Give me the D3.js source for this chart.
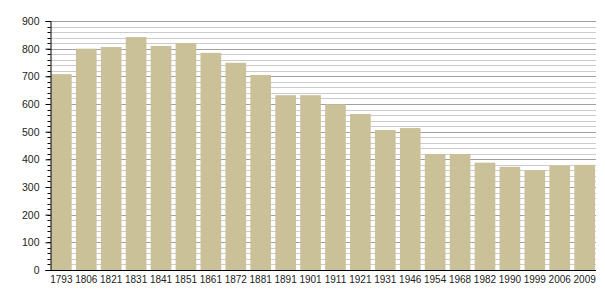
<!DOCTYPE html>
<html>
<head>
<meta charset="utf-8">
<script src="https://cdn.jsdelivr.net/npm/d3@7"></script>
<style>
body { margin: 0; background: #fff; }
text { font-family: "Liberation Sans", Arial, sans-serif; }
</style>
</head>
<body>
<script>
var years = ["1793","1806","1821","1831","1841","1851","1861","1872","1881","1891","1901","1911","1921","1931","1946","1954","1968","1982","1990","1999","2006","2009"];
var population = [708,800,806,842,810,820,785,749,705,632,632,599,564,506,513,419,419,388,373,361,377,380];
var yTicks = [0,100,200,300,400,500,600,700,800,900];

var width = 605, height = 300;
var plotLeft = 50, plotRight = 596, plotTop = 21, plotBottom = 270;

var svg = d3.select("body").append("svg")
    .attr("width", width)
    .attr("height", height);

var x = d3.scaleBand().domain(years).range([plotLeft, plotRight]).paddingInner(0.17).paddingOuter(0.04);
var y = d3.scaleLinear().domain([0, 900]).range([plotBottom, plotTop]);

// grid, minor every 20 and major every 100
var minor = d3.range(20, 901, 20).filter(function (d) { return d % 100 != 0; });
svg.append("g").selectAll("line").data(minor).enter().append("line")
    .attr("x1", plotLeft).attr("x2", plotRight)
    .attr("y1", function (d) { return Math.round(y(d)) + 0.5; })
    .attr("y2", function (d) { return Math.round(y(d)) + 0.5; })
    .attr("stroke", "#cccccc");
svg.append("g").selectAll("line").data(yTicks.slice(1)).enter().append("line")
    .attr("x1", plotLeft).attr("x2", plotRight)
    .attr("y1", function (d) { return Math.round(y(d)) + 0.5; })
    .attr("y2", function (d) { return Math.round(y(d)) + 0.5; })
    .attr("stroke", "#a0a0a0");

svg.append("g").selectAll("rect").data(population).enter().append("rect")
    .attr("x", function (d, i) { return x(years[i]); })
    .attr("width", x.bandwidth())
    .attr("y", function (d) { return y(d); })
    .attr("height", function (d) { return plotBottom - y(d); })
    .attr("fill", "#cbc199");

// y axis with minor ticks
var yAxis = svg.append("g").attr("transform", "translate(" + (plotLeft + 0.5) + ",0)");
yAxis.append("g").selectAll("line").data(d3.range(0, 901, 20)).enter().append("line")
    .attr("x1", -3).attr("x2", 0)
    .attr("y1", function (d) { return Math.round(y(d)) + 0.5; })
    .attr("y2", function (d) { return Math.round(y(d)) + 0.5; })
    .attr("stroke", "#000");
yAxis.call(d3.axisLeft(y).tickValues(yTicks).tickSize(5).tickPadding(6))
    .call(function (g) { g.select(".domain").attr("stroke", "#000"); })
    .selectAll("text").attr("font-size", 10.5).attr("fill", "#222").attr("font-family", "Liberation Sans, Arial, sans-serif");

svg.append("line")
    .attr("x1", plotLeft).attr("x2", plotRight)
    .attr("y1", plotBottom + 0.5).attr("y2", plotBottom + 0.5)
    .attr("stroke", "#000");

svg.append("g").selectAll("text").data(years).enter().append("text")
    .attr("x", function (d) { return x(d) + x.bandwidth() / 2; })
    .attr("y", 283)
    .attr("text-anchor", "middle")
    .attr("font-size", 10)
    .attr("fill", "#222")
    .text(function (d) { return d; });
</script>
</body>
</html>
